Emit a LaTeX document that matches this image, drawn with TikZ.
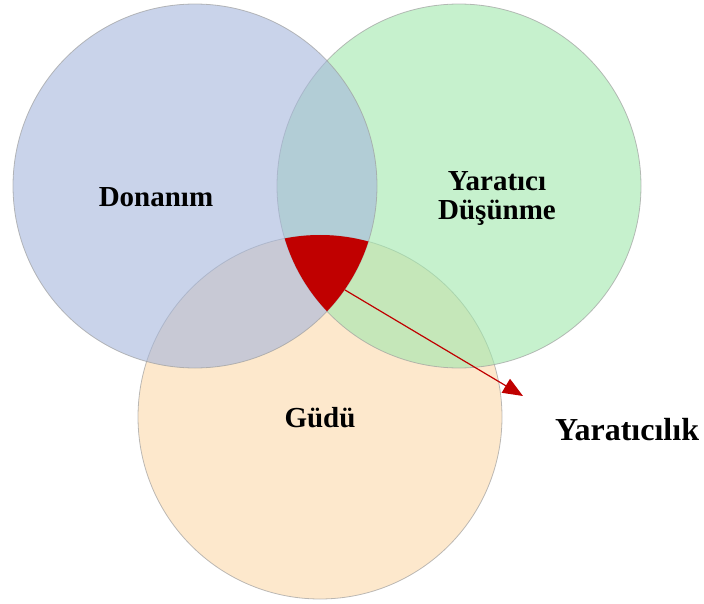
\documentclass[tikz,border=0pt]{standalone}
\usepackage{fontspec}
\setmainfont{Liberation Serif}
\usetikzlibrary{arrows.meta}
\definecolor{cblue}{RGB}{165,182,220}
\definecolor{cgreen}{RGB}{160,232,172}
\definecolor{corange}{RGB}{252,217,170}
\definecolor{cred}{RGB}{192,0,0}
\tikzset{
  venn/.style={circle, inner sep=0pt, minimum size=364pt, draw=gray!75, line width=0.8pt, fill opacity=0.6, draw opacity=0.7},
  lbl/.style={font=\fontsize{29}{29}\selectfont\bfseries, align=center, inner sep=0pt},
}
\begin{document}
\begin{tikzpicture}[x=1pt,y=-1pt]
\useasboundingbox (0,0) rectangle (704,604);
\node[venn, fill=corange] (orange) at (320,417) {};
\node[venn, fill=cgreen] (green) at (459,186) {};
\node[venn, fill=cblue] (blue) at (195,186) {};
\begin{scope}
  \clip (195,186) circle[radius=182pt];
  \clip (459,186) circle[radius=182pt];
  \fill[cred] (320,417) circle[radius=182pt];
\end{scope}
\coordinate (redpt) at (345,290);
\coordinate (tip) at (523,396);
\draw[cred, line width=1.2pt, -{Triangle[length=20pt,width=16pt]}] (redpt) -- (tip);
\node[lbl] (don) at (156,197) {Donanım};
\node[lbl] (yd) at (497,198) {Yaratıcı\\Düşünme};
\node[lbl] (gudu) at (320,418) {Güdü};
\node[lbl, font=\fontsize{32}{32}\selectfont\bfseries] (yar) at (627,430) {Yaratıcılık};
\end{tikzpicture}
\end{document}
